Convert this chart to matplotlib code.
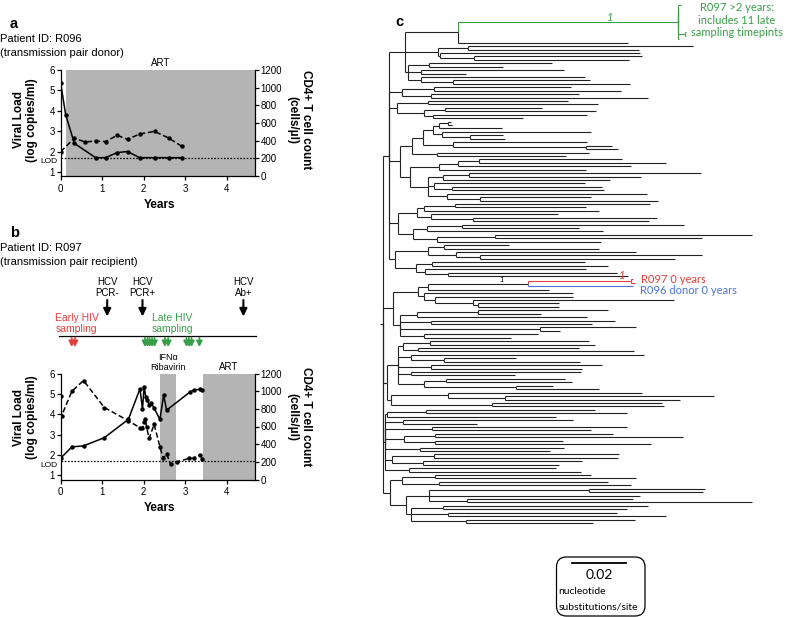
import matplotlib
matplotlib.use('Agg')
import matplotlib.pyplot as plt
import matplotlib.transforms as mtransforms
from matplotlib.collections import LineCollection
from matplotlib.patches import FancyBboxPatch

plt.rcParams['font.family'] = ['Liberation Sans', 'DejaVu Sans']

# ---- panel a: R096 (donor) ----
a_vl_years = [0, 0.12, 0.33, 0.84, 1.08, 1.36, 1.61, 1.9, 2.26, 2.6, 2.92]
a_vl = [5.35, 3.8, 2.4, 1.7, 1.7, 1.95, 2.0, 1.7, 1.7, 1.7, 1.7]
a_cd4_years = [0, 0.33, 0.58, 0.84, 1.08, 1.36, 1.61, 1.9, 2.26, 2.6, 2.92]
a_cd4 = [275, 430, 385, 395, 390, 460, 415, 475, 505, 430, 335]
a_art = (0.12, 4.68)

# ---- panel b: R097 (recipient) ----
b_vl_years = [0, 0.27, 0.55, 1.05, 1.63, 1.91, 1.97, 2.01, 2.05, 2.09, 2.13, 2.18,
              2.25, 2.39, 2.48, 2.55, 3.12, 3.22, 3.36, 3.41]
b_vl = [1.85, 2.4, 2.45, 2.85, 3.75, 5.25, 4.25, 5.35, 4.85, 4.7, 4.45, 4.55,
        4.3, 3.75, 4.95, 4.2, 5.1, 5.2, 5.22, 5.2]
b_cd4_years = [0, 0.02, 0.27, 0.55, 1.05, 1.63, 1.91, 1.97, 2.01, 2.04, 2.07, 2.13,
               2.25, 2.39, 2.47, 2.55, 2.65, 2.8, 3.1, 3.2, 3.36, 3.41]
b_cd4 = [950, 720, 1000, 1120, 815, 665, 585, 580, 650, 690, 590, 465,
         625, 370, 240, 290, 170, 200, 240, 240, 280, 235]
b_ifn = (2.40, 2.78)
b_art = (3.42, 4.68)
early_sampling = [0.265, 0.345]
late_sampling = [2.03, 2.09, 2.14, 2.2, 2.26, 2.51, 2.59, 3.03, 3.09, 3.15, 3.34]
hcv_events = [(1.12, 'HCV\nPCR-'), (1.97, 'HCV\nPCR+'), (4.4, 'HCV\nAb+')]
LOD = 1.7

# ---- panel c: tree, node = [divergence, children...], leaf = divergence
# divergence from root in 1e-3 substitutions/site
tree = [0,
    [2.2,
        [8.1,
            [27.5, ('green', [108.6, 109.8, 108.8, 108.8, 108.8, 108.8, 108.8, 108.8, 108.8,
                              [111.2, 111.5, 111.5], 108.9]), 90.2],
            [20.1, [31.3, 114.2, 94.3], [21.0, 94.7, [33.5, 95.4, 90.6]]],
            [9.1, [16.9, 62.2, 44.2], [14.0, 66.7, 30.6], [14.0, 74.4, [25.8, 76.2, 91.0]]]],
        [6.9, [18.8, 69.2, 87.7], [17.6, 72.2, 97.6]],
        [5.0, [16.6, 68.1, 79.2], [15.1, [22.8, 58.6, 78.4], [18.3, 75.1, 51.6]]],
        [6.3,
            [10.6,
                [14.7,
                    [18.3, [20.6, [23.9, 25.0, 25.4], 43.8], [21.6, 76.6, [32.0, 44.2, 44.9]]],
                    [25.8, 75.1, [74.8, 84.3, 86.5]]],
                [19.9, 75.9, 67.4]],
            [9.9,
                [20.6, [27.6, [35.4, 88.0, 104.2], 91.3], 74.8],
                [16.5, [22.1, [31.7, 117.1, 95.0], 83.6], [18.8, 74.4, [25.4, 80.7, 81.4]],
                 [23.6, 97.2, [35.7, 76.6, 101.3]]]]],
        [5.5, [12.4, [15.1, [26.4, 98.3, 74.8], 79.6], [17.7, 64.5, [33.0, 100.9, 98.0]]],
              [11.0, [16.1, [29.0, 110.9, 72.2], 81.0], [20.0, [41.2, 135.9, 117.5], 80.3]]],
        [4.4, [16.7, [22.4, 46.4, 79.6], [26.8, 93.2, [35.7, 117.5, 107.5]]],
              [12.0, [18.0, 74.4, 82.9], [15.6, 74.8, [24.0, 86.2, 90.2]]]]],
    [3.8,
        [12.8, [16.7, [53.5, ('red', [91.3, 92.1, 92.8]), ('blue', 92.1)], 61.1],
               [15.1, 70.0, [19.2, 70.0, [33.0, 107.2, [35.1, 64.8, 64.8]]]]],
        [6.3, [12.4, [35.1, 82.9, 58.2], 75.1], [17.7, 85.4, 77.0], [57.8, 93.2, 65.2],
              [15.2, 57.1, 47.1]]],
    [1.4,
        [5.4, [7.5, [17.3, 75.9, 78.1], [13.0, 72.2, 92.4]],
              [10.3, 96.1, [22.6, 49.0, 72.6]],
              [17.7, 80.7, 73.3],
              [10.3, 72.9, 48.6],
              [15.2, [23.2, 67.0, 69.6], [49.0, 62.6, 79.6]]],
        [3.0, [24.0, 95.4, [45.0, 121.9, 109.4]], [40.0, 102.8, 103.5]]],
    [0.6, [1.4, [15.7, 78.1, 89.9], 63.7], [7.3, 70.0, 34.6], [17.9, 89.9, 76.6],
          [7.8, [19.2, 84.7, 110.5], [19.2, 66.3, 98.7]], [13.6, 66.7, 61.5],
          [3.2, [18.9, 86.9, 86.5], [14.8, 73.3, 64.8]], [9.7, 63.7, 72.9]],
    [2.6, [6.9, [19.2, 76.6, 93.2], [20.5, 82.9, 91.3]],
          [8.5, [17.1, [76.0, 118.6, 117.8], 94.7, [31.0, 92.1, 135.9]],
                [10.3, [22.0, 97.6, 89.9], [23.8, 86.2, 104.2], [30.6, 92.8, 77.3]]]]]

GREEN, RED, BLUE = '#3a9e48', '#e0403c', '#4a72d6'
SHADE = '#b4b4b4'

W, H = 785, 617
fig = plt.figure(figsize=(W / 100, H / 100), dpi=100)


def px_box(l, t, r, b):
    return [l / W, 1 - b / H, (r - l) / W, (b - t) / H]


def vl_panel(rect, tv, v, tc, c, shades):
    ax = fig.add_axes(rect)
    for s, e in shades:
        ax.axvspan(s, e, color=SHADE, lw=0, zorder=0)
    ax.axhline(LOD, color='k', ls=(0, (1.3, 1.3)), lw=0.9, zorder=1)
    ax.plot(tv, v, '-o', color='k', lw=1.1, ms=2.2, zorder=3)
    ax2 = ax.twinx()
    ax2.plot(tc, c, '--o', color='k', lw=1.1, ms=2.2, dashes=(3.5, 1.8))
    ax.set_xlim(0, 4.68)
    ax.set_ylim(0.8, 6)
    ax2.set_ylim(0, 1200)
    ax.set_xticks(range(5))
    ax.set_yticks(range(1, 7))
    ax2.set_yticks(range(0, 1201, 200))
    for s in ['top', 'right']:
        ax.spines[s].set_visible(False)
    for s in ['top', 'left', 'bottom']:
        ax2.spines[s].set_visible(False)
    for a in (ax, ax2):
        for s in a.spines.values():
            s.set_linewidth(0.9)
        a.tick_params(labelsize=7, length=3, width=0.9, pad=1)
    ax.tick_params(axis='x', pad=2.5)
    tr = mtransforms.blended_transform_factory(ax.transAxes, ax.transData)
    ax.text(-0.015, 1.5, 'LOD', transform=tr, ha='right', va='center', fontsize=6)
    return ax


ax_a = vl_panel(px_box(60.7, 70, 255, 176), a_vl_years, a_vl, a_cd4_years, a_cd4, [a_art])
ax_b = vl_panel(px_box(60.7, 373.5, 255, 479.5), b_vl_years, b_vl, b_cd4_years, b_cd4,
                [b_ifn, b_art])

tra = mtransforms.blended_transform_factory(ax_a.transData, ax_a.transAxes)
ax_a.text(sum(a_art) / 2, 1.02, 'ART', transform=tra, ha='center', va='bottom', fontsize=7)

# timeline above panel b, y in pixel rows
ax_t = fig.add_axes(px_box(60.7, 270, 255, 372))
ax_t.set_xlim(0, 4.68)
ax_t.set_ylim(372, 270)
ax_t.axis('off')
ax_t.plot([-0.035, 4.71], [336, 336], color='k', lw=0.9, clip_on=False)
small = dict(arrowstyle='-|>,head_length=0.35,head_width=0.18', lw=1.2, shrinkA=0, shrinkB=0)
for t in early_sampling:
    ax_t.annotate('', xy=(t, 347), xytext=(t, 337.5), arrowprops=dict(color=RED, **small))
for t in late_sampling:
    ax_t.annotate('', xy=(t, 347), xytext=(t, 337.5), arrowprops=dict(color=GREEN, **small))
for t, lab in hcv_events:
    ax_t.annotate('', xy=(t, 316.5), xytext=(t, 300),
                  arrowprops=dict(arrowstyle='-|>,head_length=0.45,head_width=0.22',
                                  color='k', lw=1.5, shrinkA=0, shrinkB=0))
    ax_t.text(t, 298.5, lab, ha='center', va='bottom', fontsize=7, linespacing=1.15)
ax_t.text(0.39, 334, 'Early HIV\nsampling', color=RED, ha='center', va='bottom',
          fontsize=7.5, linespacing=1.1)
ax_t.text(2.69, 334, 'Late HIV\nsampling', color=GREEN, ha='center', va='bottom',
          fontsize=7.5, linespacing=1.1)
ax_t.text(sum(b_ifn) / 2, 371.5, 'IFNα\nRibavirin', ha='center', va='bottom', fontsize=6.5,
          linespacing=1.1)
ax_t.text(sum(b_art) / 2, 371.5, 'ART', ha='center', va='bottom', fontsize=7)

# labels panels a/b
for yc, ttl, sub, letter, ly in [(120, 'Patient ID: R096', '(transmission pair donor)', 'a', 24),
                                  (417, 'Patient ID: R097', '(transmission pair recipient)', 'b', 233)]:
    fig.text(25.5 / W, 1 - yc / H, 'Viral Load\n(log copies/ml)', rotation=90, ha='center',
             va='center', fontsize=8.5, fontweight='bold', multialignment='center')
    fig.text(299 / W, 1 - yc / H, 'CD4+ T cell count\n(cells/µl)', rotation=270, ha='center',
             va='center', fontsize=8.5, fontweight='bold', multialignment='center')
    fig.text(10 / W, 1 - ly / H, letter, fontsize=10.5, fontweight='bold', va='center')
    fig.text(0, 1 - (ly + 15) / H, ttl, fontsize=8, va='center')
    fig.text(0, 1 - (ly + 29) / H, sub, fontsize=8, va='center')
fig.text(160 / W, 1 - 205 / H, 'Years', fontsize=8.5, fontweight='bold', ha='center', va='center')
fig.text(160 / W, 1 - 508 / H, 'Years', fontsize=8.5, fontweight='bold', ha='center', va='center')
fig.text(395 / W, 1 - 22 / H, 'c', fontsize=10.5, fontweight='bold', va='center')

# ---- panel c: rectangular phylogram ----
segs = {}
marks = {}
row = [0]


def place(node, px, color):
    if isinstance(node, tuple):
        color, node = node
        tag = color
    else:
        tag = None
    if isinstance(node, list):
        x = node[0]
        kids = [place(ch, x, color) for ch in node[1:]]
        y = (kids[0][0] + kids[-1][0]) / 2
        for ky, kc in kids:
            segs.setdefault(kc, []).append([(x, y), (x, ky)])
    else:
        x = node
        y = row[0]
        row[0] += 1
    segs.setdefault(color, []).append([(px, y), (x, y)])
    if tag:
        marks[tag] = (px, x, y)
    return y, color


place(tree, -1.0, 'k')
n = row[0]
step = 518 / (n - 1)

ax_c = fig.add_axes(px_box(375, 0, 785, 617))
ax_c.set_xlim((375 - 383) * 0.3683, (785 - 383) * 0.3683)
ax_c.set_ylim((617 - 5) / step, -5 / step)
ax_c.axis('off')
for col, s in segs.items():
    ax_c.add_collection(LineCollection(s, colors='#222222' if col == 'k' else
                                       {'green': GREEN, 'red': RED, 'blue': BLUE}[col],
                                       linewidths=0.8))

cf = 'Lato'
gpx, gx, gy = marks['green']
ax_c.text(gx - 25, gy - 1.4, '1', color=GREEN, fontsize=8, style='italic', family=cf,
          ha='center', va='center')
ax_c.text(gx + 21.7, gy - 0.6, 'R097 >2 years:\nincludes 11 late\nsampling timepints',
          color=GREEN, fontsize=8, family=cf, ha='center', va='center', linespacing=1.2)
rpx, rx, ry = marks['red']
bpx, bx, by = marks['blue']
ax_c.text(rx - 3.2, ry - 1.6, '1', color=RED, fontsize=8, style='italic', family=cf,
          ha='center', va='center')
ax_c.text(rpx - 9.8, ry - 0.4, '1', color='k', fontsize=5.5, style='italic', family=cf,
          ha='center', va='center')
ax_c.text(rx + 3.6, ry - 0.5, 'R097 0 years', color=RED, fontsize=8, family=cf,
          ha='left', va='center')
ax_c.text(rx + 3.4, by + 1.25, 'R096 donor 0 years', color=BLUE, fontsize=8, family=cf,
          ha='left', va='center')

# scale bar 0.02 substitutions/site
bar_y = (563.3 - 5) / step
ax_c.plot([69.5, 89.5], [bar_y, bar_y], color='k', lw=1.3)
ax_c.text(79.5, (575 - 5) / step, '0.02', fontsize=10, family=cf, ha='center', va='center')
ax_c.text(64.6, (592 - 5) / step, 'nucleotide', fontsize=7.5, family=cf, ha='left', va='center')
ax_c.text(64.6, (606.5 - 5) / step, 'substitutions/site', fontsize=7.5, family=cf,
          ha='left', va='center')
fig.add_artist(FancyBboxPatch((5.565, 0.01), 0.885, 0.59,
                              boxstyle='round,pad=0,rounding_size=0.1',
                              transform=fig.dpi_scale_trans, fc='none', ec='k', lw=0.9))

fig.savefig('out.png', dpi=100)
